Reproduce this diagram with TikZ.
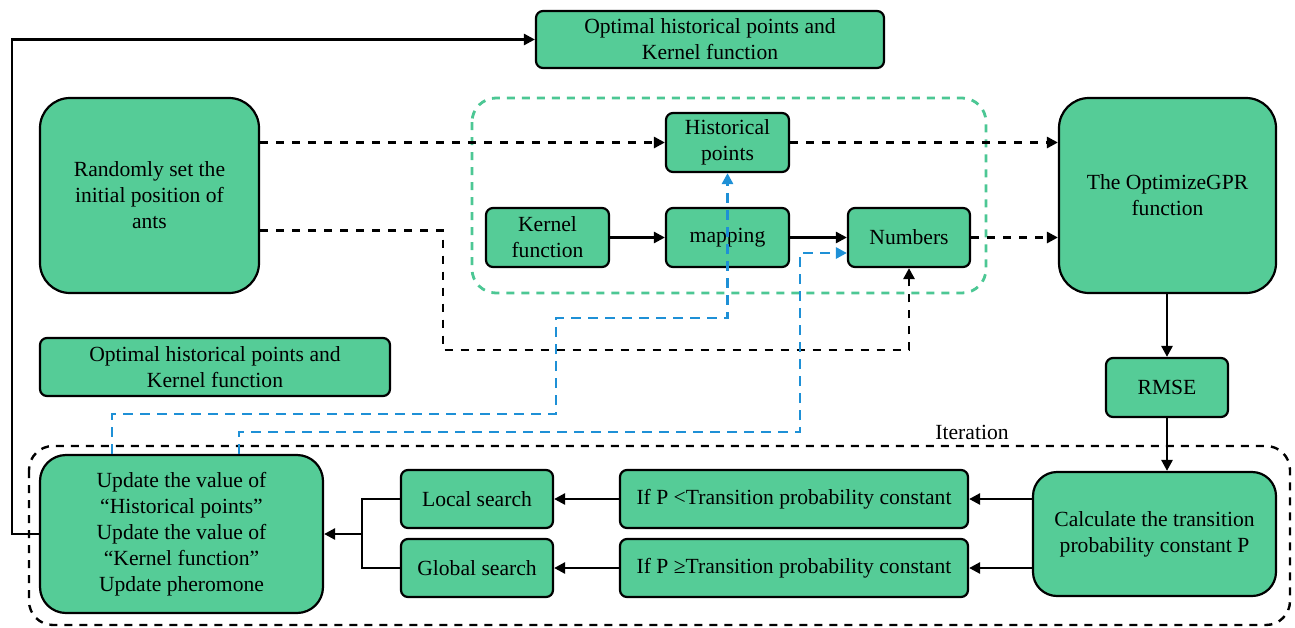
\documentclass[tikz,border=0pt]{standalone}
\usepackage{fontspec}
\setmainfont{Liberation Serif}
\usetikzlibrary{arrows.meta,calc}
\definecolor{boxgreen}{HTML}{55CC97}
\definecolor{dashgreen}{HTML}{4CC794}
\definecolor{lineblue}{HTML}{1E90D6}
\newcommand\bx[7]{\node[#7, minimum width={(#4-#2)*0.5pt}, minimum height={(#5-#3)*0.5pt}] (#1) at ({(#2+#4)/2},{(#3+#5)/2}) {#6};}
\tikzset{
  box/.style={draw=black, line width=1.1pt, fill=boxgreen, rounded corners=3.5pt, inner sep=0pt, align=center,
    font=\fontsize{10.8}{13}\selectfont},
  bigbox/.style={box, rounded corners=15pt},
  tip/.style={-{Triangle[length=5.5pt,width=5.5pt]}},
  solidarrow/.style={line width=1.3pt, tip},
  dasharrow/.style={line width=1.4pt, dash pattern=on 4pt off 4pt, tip},
  bluearrow/.style={draw=lineblue, line width=1.4pt, dash pattern=on 5pt off 3.5pt, -{Triangle[length=5.5pt,width=5.5pt]}},
  groupbox/.style={draw=dashgreen, line width=1.4pt, dash pattern=on 4pt off 3.5pt, rounded corners=12pt},
  iterbox/.style={draw=black, line width=1.2pt, dash pattern=on 4pt off 3.5pt, rounded corners=12pt},
  lbl/.style={font=\fontsize{10.8}{13}\selectfont, inner sep=0pt}
}
\begin{document}
\begin{tikzpicture}[x=0.5pt,y=-0.5pt]
\useasboundingbox (0,0) rectangle (1295,627);
% group frames
\draw[groupbox] (472,98) rectangle (986,293);
\draw[iterbox] (29,446) rectangle (1290,625);
\node[lbl] (iterlbl) at (972,432) {Iteration};
% boxes
\bx{top}{536}{11}{884}{68}{Optimal historical points and\\Kernel function}{box}
\bx{rand}{40}{98}{259}{293}{Randomly set the\\initial position of\\ants}{bigbox}
\bx{hist}{666}{113}{789}{172}{Historical\\points}{box}
\bx{kern}{486}{208}{609}{267}{Kernel\\function}{box}
\bx{map}{666}{208}{789}{267}{mapping}{box}
\bx{num}{848}{208}{970}{267}{Numbers}{box}
\bx{gpr}{1059}{98}{1276}{293}{The OptimizeGPR\\function}{bigbox}
\bx{rmse}{1106}{358}{1228}{417}{RMSE}{box}
\bx{opt}{40}{338}{390}{396}{Optimal historical points and\\Kernel function}{box}
\bx{upd}{40}{455}{323}{613}{Update the value of\\“Historical points”\\Update the value of\\“Kernel function”\\Update pheromone}{box, rounded corners=13pt}
\bx{loc}{401}{470}{553}{528}{Local search}{box}
\bx{glob}{401}{539}{553}{597}{Global search}{box}
\bx{ifl}{620}{470}{968}{528}{If P <Transition probability constant}{box}
\bx{ifg}{620}{539}{968}{597}{If P ≥Transition probability constant}{box}
\bx{calc}{1033}{472}{1276}{596}{Calculate the transition\\probability constant P}{box, rounded corners=12pt}
% connectors
\draw[solidarrow] (upd.west) -| (12,300) |- (top.west);
\draw[dasharrow] (rand.east |- hist.west) -- (hist.west);
\draw[dasharrow] (hist.east) -- (hist.east -| gpr.west);
\draw[dasharrow] ($(rand.east)+(0,35)$) -| (443,350) -| (num.south);
\draw[solidarrow] (kern.east) -- (map.west);
\draw[solidarrow] (map.east) -- (num.west);
\draw[dasharrow] (num.east) -- (num.east -| gpr.west);
\draw[solidarrow] (gpr.south -| rmse.north) -- (rmse.north);
\draw[solidarrow] (rmse.south) -- (rmse.south |- calc.north);
\draw[solidarrow] (calc.west |- ifl.east) -- (ifl.east);
\draw[solidarrow] (calc.west |- ifg.east) -- (ifg.east);
\draw[solidarrow] (ifl.west) -- (loc.east);
\draw[solidarrow] (ifg.west) -- (glob.east);
\coordinate (j) at (362,534);
\draw[line width=1.1pt] (loc.west) -| (j);
\draw[line width=1.1pt] (glob.west) -| (j);
\draw[solidarrow] (j) -- (upd.east);
\draw[bluearrow] ($(upd.north west)+(73,0)$) |- (556,414) -- (556,318) -| (hist.south);
\draw[bluearrow] ($(upd.north west)+(200,0)$) |- (800,432) |- ($(num.west)+(0,15.5)$);
\end{tikzpicture}
\end{document}
